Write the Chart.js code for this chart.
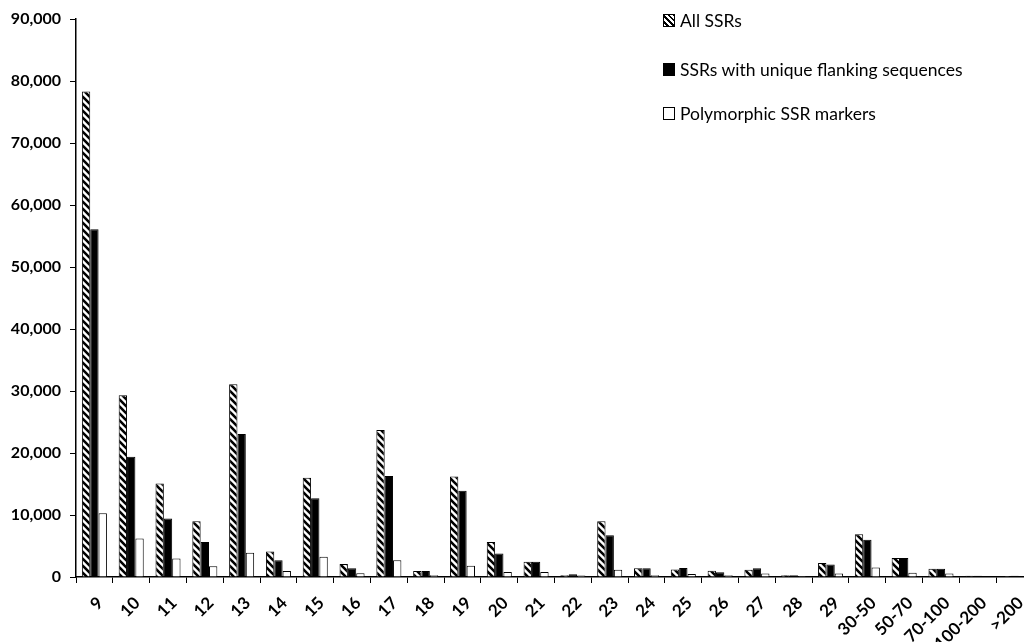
<!DOCTYPE html>
<html>
<head>
<meta charset="utf-8">
<script src="https://cdn.jsdelivr.net/npm/chart.js@4.4.1/dist/chart.umd.min.js"></script>
<style>
    body { margin: 0; overflow: hidden; background: #fff; }
    #wrap { position: relative; width: 1040px; height: 642px; }
    .legend { position: absolute; left: 663px; top: 0; font-family: Lato, "Open Sans", sans-serif; font-size: 17.5px; color: #000; z-index: 2; }
    .legend-item { position: absolute; left: 0; white-space: nowrap; display: flex; align-items: center; }
    .legend-box { width: 10px; height: 11px; border: 1px solid #000; margin-right: 5px; box-sizing: content-box; }
    .box-hatch { background: repeating-linear-gradient(45deg, #fff 0 2px, #000 2px 4px); }
    .box-black { background: #000; }
    .box-white { background: #fff; }
</style>
</head>
<body>
<div id="wrap">
    <canvas id="chart" width="1040" height="642"></canvas>
    <div class="legend">
        <div class="legend-item" style="top:10px"><span class="legend-box box-hatch"></span>All SSRs</div>
        <div class="legend-item" style="top:59px"><span class="legend-box box-black"></span>SSRs with unique flanking sequences</div>
        <div class="legend-item" style="top:103px"><span class="legend-box box-white"></span>Polymorphic SSR markers</div>
    </div>
</div>
<script>
const categories = ['9', '10', '11', '12', '13', '14', '15', '16', '17', '18', '19', '20', '21', '22', '23', '24', '25', '26', '27', '28', '29', '30-50', '50-70', '70-100', '100-200', '>200'];
const allSSRs = [78300, 29300, 15100, 9000, 31100, 4100, 16000, 2100, 23700, 950, 16200, 5650, 2450, 300, 9000, 1400, 1200, 1000, 1150, 300, 2250, 6900, 3050, 1350, 200, 150];
const uniqueFlanking = [56100, 19400, 9450, 5650, 23050, 2700, 12700, 1400, 16300, 950, 13900, 3800, 2450, 450, 6750, 1400, 1450, 750, 1400, 300, 2000, 6000, 3050, 1350, 200, 200];
const polymorphic = [10300, 6200, 3000, 1750, 3900, 950, 3250, 600, 2700, 300, 1800, 800, 800, 250, 1150, 300, 500, 300, 550, 150, 550, 1550, 700, 550, 100, 100];

function makeHatch() {
    const s = 7;
    const c = document.createElement('canvas');
    c.width = s;
    c.height = s;
    const g = c.getContext('2d');
    g.fillStyle = '#fff';
    g.fillRect(0, 0, s, s);
    g.strokeStyle = '#000';
    g.lineWidth = 2.6;
    g.beginPath();
    g.moveTo(-1, -1); g.lineTo(s + 1, s + 1);
    g.moveTo(-1, s - 1); g.lineTo(1, s + 1);
    g.moveTo(s - 1, -1); g.lineTo(s + 1, 1);
    g.stroke();
    return g.createPattern(c, 'repeat');
}

const ctx = document.getElementById('chart');
const hatch = makeHatch();

const tickFont = { family: 'Lato, "Open Sans", sans-serif', size: 16, weight: 'bold' };

new Chart(ctx, {
    type: 'bar',
    data: {
        labels: categories,
        datasets: [
            { label: 'All SSRs', data: allSSRs, backgroundColor: hatch, borderColor: '#000', borderWidth: 1 },
            { label: 'SSRs with unique flanking sequences', data: uniqueFlanking, backgroundColor: '#000', borderColor: '#000', borderWidth: 1 },
            { label: 'Polymorphic SSR markers', data: polymorphic, backgroundColor: '#fff', borderColor: '#000', borderWidth: 1 }
        ]
    },
    options: {
        responsive: false,
        animation: false,
        categoryPercentage: 0.68,
        barPercentage: 1.0,
        layout: { padding: { top: 19, right: 7, left: 0, bottom: 0 } },
        plugins: {
            legend: { display: false },
            tooltip: { enabled: false }
        },
        scales: {
            x: {
                grid: { display: true, drawOnChartArea: false, drawTicks: true, tickLength: 6, color: '#000', offset: true },
                border: { display: true, color: '#000', width: 1.5 },
                ticks: { color: '#000', font: { ...tickFont, size: 17 }, minRotation: 45, maxRotation: 45, padding: 10, labelOffset: 6, autoSkip: false },
                afterFit: scale => { scale.height = 65; }
            },
            y: {
                min: 0,
                max: 90000,
                grid: { display: true, drawOnChartArea: false, drawTicks: true, tickLength: 6, color: '#000' },
                border: { display: true, color: '#000', width: 1.5 },
                ticks: { color: '#000', font: tickFont, stepSize: 10000, padding: 9 },
                afterFit: scale => { scale.width = 76; }
            }
        }
    }
});
</script>
</body>
</html>
